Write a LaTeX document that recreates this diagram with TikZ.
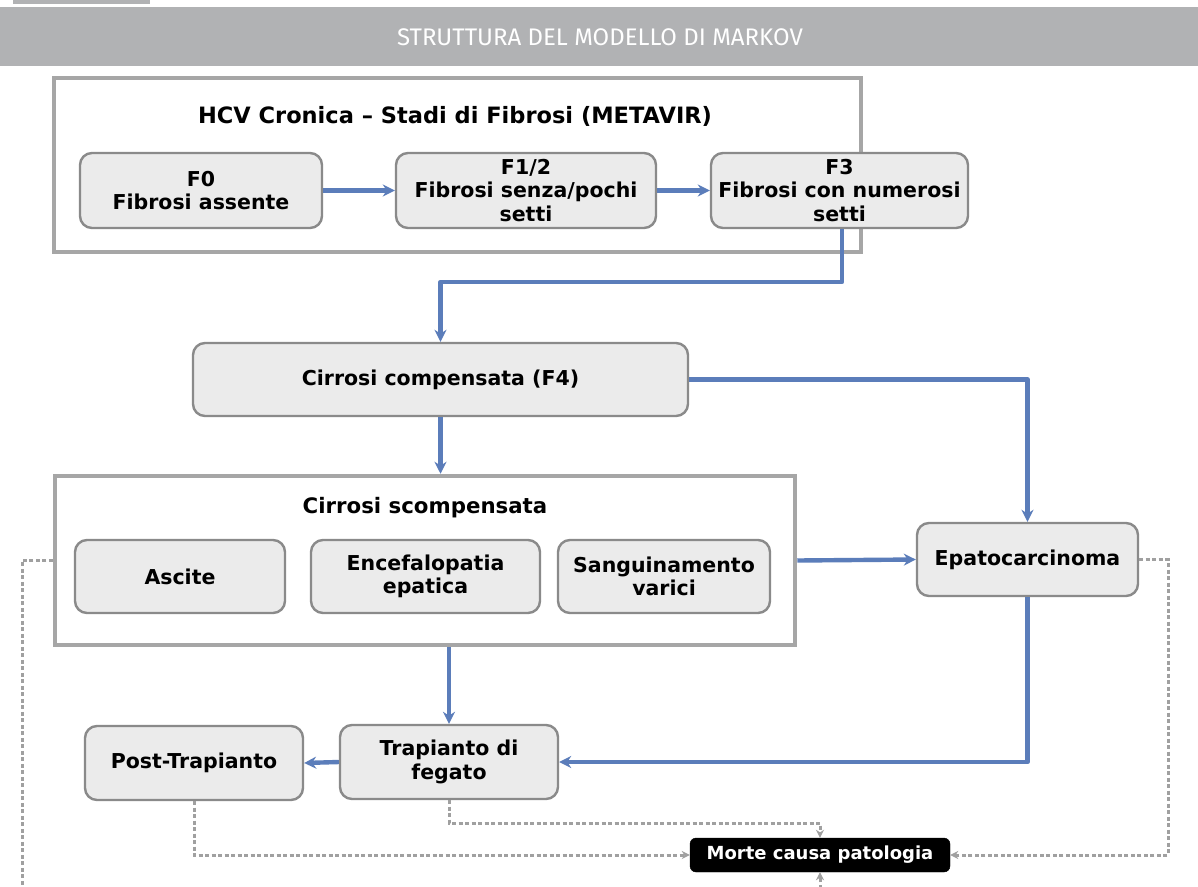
\documentclass[tikz,border=0pt]{standalone}
\usepackage{fontspec}
\setmainfont{DejaVu Sans}
\newfontfamily\headfont{Fira Sans}
\usetikzlibrary{arrows.meta,calc}
\definecolor{band}{HTML}{B1B2B4}
\definecolor{boxfill}{HTML}{EBEBEB}
\definecolor{boxline}{HTML}{8A8A8A}
\definecolor{grpline}{HTML}{A6A6A6}
\definecolor{flow}{HTML}{5B7DBA}
\definecolor{dash}{HTML}{A0A0A0}
\tikzset{
  stbox/.style={draw=boxline, line width=2.4pt, fill=boxfill, rounded corners=12pt,
    align=center, inner sep=0pt, font=\bfseries\fontsize{20.5}{23.5}\selectfont},
  grp/.style={draw=grpline, line width=4.5pt, fill=white, inner sep=0pt},
  grptitle/.style={font=\bfseries\fontsize{21.3}{25}\selectfont, inner sep=0pt},
  flowarr/.style={draw=flow, line width=4.4pt, line join=round,
    -{Stealth[length=12pt,width=12pt]}},
  dasharr/.style={draw=dash, line width=3pt, dash pattern=on 4pt off 2.5pt,
    -{Stealth[length=8pt,width=8pt]}},
}
\begin{document}
\begin{tikzpicture}[x=1pt,y=-1pt]
\useasboundingbox (0,0) rectangle (1198,886);
\fill[white] (0,0) rectangle (1198,886);
% header
\fill[band] (13,0) rectangle (150,4);
\fill[band] (0,7) rectangle (1198,66);
\node[text=white, font=\headfont\fontsize{24}{27}\selectfont] (head) at (600,37) {STRUTTURA DEL MODELLO DI MARKOV};

% group 1
\node[grp, minimum width=807pt, minimum height=174pt] (g1) at (457.5,165) {};
\node[grptitle, font=\bfseries\fontsize{22.5}{26}\selectfont] (g1t) at (455,116) {HCV Cronica – Stadi di Fibrosi (METAVIR)};
\node[stbox, minimum width=242pt, minimum height=75pt] (f0) at (201,190.5) {F0\\Fibrosi assente};
\node[stbox, minimum width=260pt, minimum height=75pt] (f12) at (526,190.5) {F1/2\\Fibrosi senza/pochi\\setti};
\node[stbox, minimum width=257pt, minimum height=75pt] (f3) at (839.5,190.5) {F3\\Fibrosi con numerosi\\setti};

% compensata
\node[stbox, minimum width=495pt, minimum height=73pt] (cc) at (440.5,379.5) {Cirrosi compensata (F4)};

% group 2
\node[grp, minimum width=740pt, minimum height=169pt] (g2) at (425,560.5) {};
\node[grptitle] (g2t) at (425,508) {Cirrosi scompensata};
\node[stbox, minimum width=210pt, minimum height=73pt] (asc) at (180,576.5) {Ascite};
\node[stbox, minimum width=229pt, minimum height=73pt] (enc) at (425.5,576.5) {Encefalopatia\\epatica};
\node[stbox, minimum width=212pt, minimum height=73pt] (san) at (664,576.5) {Sanguinamento\\varici};

\node[stbox, minimum width=221pt, minimum height=73pt] (epa) at (1027.5,559.5) {Epatocarcinoma};
\node[stbox, minimum width=218pt, minimum height=74pt] (tra) at (449,762) {Trapianto di\\fegato};
\node[stbox, minimum width=218pt, minimum height=74pt] (post) at (194,763) {Post-Trapianto};
\node[draw=black, fill=black, rounded corners=6pt, text=white, inner sep=0pt,
  minimum width=260pt, minimum height=34pt, font=\bfseries\fontsize{18}{21}\selectfont] (morte) at (820,855) {Morte causa patologia};

\coordinate (j1) at (0,282);
\coordinate (jl) at (22,0);
\coordinate (jr) at (1168,0);
\coordinate (jb) at (0,905);

% flow arrows
\draw[flowarr] (f0.east) -- (f12.west);
\draw[flowarr] (f12.east) -- (f3.west);
\draw[flowarr] ($(f3.south)+(2.5,0)$) |- (cc.north |- j1) -- (cc.north);
\draw[flowarr] (cc.east) -| (epa.north);
\draw[flowarr] (cc.south) -- (cc.south |- g2.north);
\draw[flowarr] (g2.east) -- (epa.west);
\draw[flowarr] (tra.north |- g2.south) -- (tra.north);
\draw[flowarr] (epa.south) |- (tra.east);
\draw[flowarr] (tra.west) -- (post.east);

% dashed arrows
\begin{scope}
\clip (0,0) rectangle (1198,886);
\draw[dasharr] (g2.west) -| (jl |- jb) -| (morte.south);
\end{scope}
\draw[dasharr] (epa.east) -| (jr |- morte.east) -- (morte.east);
\draw[dasharr] (post.south) |- (morte.west);
\draw[dasharr] (tra.south) -- ++(0,23) -| (morte.north);
\end{tikzpicture}
\end{document}
